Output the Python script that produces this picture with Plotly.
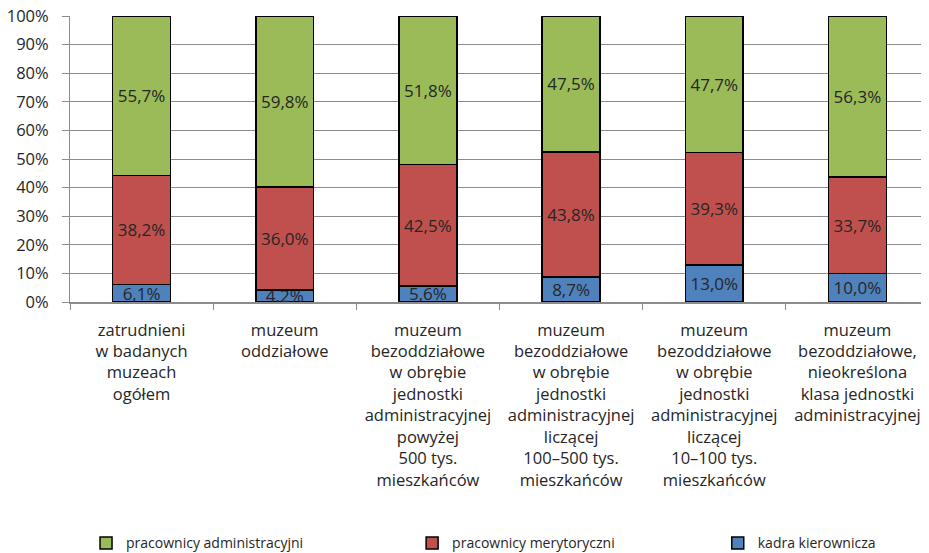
import plotly.graph_objects as go

categories = [
    "zatrudnieni<br>w badanych<br>muzeach<br>ogółem",
    "muzeum<br>oddziałowe",
    "muzeum<br>bezoddziałowe<br>w obrębie<br>jednostki<br>administracyjnej<br>powyżej<br>500 tys.<br>mieszkańców",
    "muzeum<br>bezoddziałowe<br>w obrębie<br>jednostki<br>administracyjnej<br>liczącej<br>100–500 tys.<br>mieszkańców",
    "muzeum<br>bezoddziałowe<br>w obrębie<br>jednostki<br>administracyjnej<br>liczącej<br>10–100 tys.<br>mieszkańców",
    "muzeum<br>bezoddziałowe,<br>nieokreślona<br>klasa jednostki<br>administracyjnej",
]
kadra = [6.1, 4.2, 5.6, 8.7, 13.0, 10.0]
merytoryczni = [38.2, 36.0, 42.5, 43.8, 39.3, 33.7]
administracyjni = [55.7, 59.8, 51.8, 47.5, 47.7, 56.3]
y_ticks = [0, 10, 20, 30, 40, 50, 60, 70, 80, 90, 100]
y_tick_labels = [f"{v}%" for v in y_ticks]

FONT = "Open Sans"

def fmt(v):
    return f"{v:.1f}".replace(".", ",") + "%"

series = [
    ("kadra kierownicza", kadra, "#4F81BD", "legend3", 0.764),
    ("pracownicy merytoryczni", merytoryczni, "#C0504D", "legend2", 0.435),
    ("pracownicy administracyjni", administracyjni, "#9BBB59", "legend", 0.084),
]

fig = go.Figure()
legend_layout = {}
for name, vals, color, lg, lx in series:
    fig.add_trace(go.Bar(
        name=name, x=categories, y=vals, legend=lg,
        marker=dict(color=color, line=dict(color="black", width=1.5)),
        text=[fmt(v) for v in vals],
        textposition="inside", insidetextanchor="middle",
        textangle=0, constraintext="none",
        textfont=dict(family=FONT, size=17, color="#262626"),
        width=0.405,
    ))
    legend_layout[lg] = dict(
        orientation="h",
        xref="container", yref="container",
        x=lx, y=0.032, xanchor="left", yanchor="middle",
        font=dict(family=FONT, size=14, color="#262626"),
        itemclick=False, itemwidth=30,
        bgcolor="rgba(0,0,0,0)",
    )

fig.update_layout(
    barmode="stack", barnorm="percent",
    width=929, height=553,
    margin=dict(l=62, r=8, t=8, b=259, autoexpand=False),
    paper_bgcolor="white", plot_bgcolor="white",
    font=dict(family=FONT, size=15, color="#262626"),
    showlegend=True,
    **legend_layout,
)
fig.update_yaxes(
    range=[0, 100], tickvals=y_ticks, ticktext=y_tick_labels,
    showgrid=True, gridcolor="#8C8C8C", gridwidth=1,
    showline=True, linecolor="#8C8C8C", linewidth=1,
    ticks="outside", ticklen=7, tickcolor="#8C8C8C",
    tickfont=dict(family=FONT, size=16.5, color="#262626"),
    ticklabelstandoff=10, ticklabeloverflow="allow",
    zeroline=False, automargin=False,
)
fig.update_xaxes(
    showline=True, linecolor="#8C8C8C", linewidth=1.5,
    ticks="outside", tickson="boundaries", ticklen=6, tickcolor="#8C8C8C",
    tickfont=dict(family=FONT, size=16.5, color="#262626"),
    ticklabelstandoff=12, ticklabeloverflow="allow", automargin=False,
)

fig.write_html("out.html")
